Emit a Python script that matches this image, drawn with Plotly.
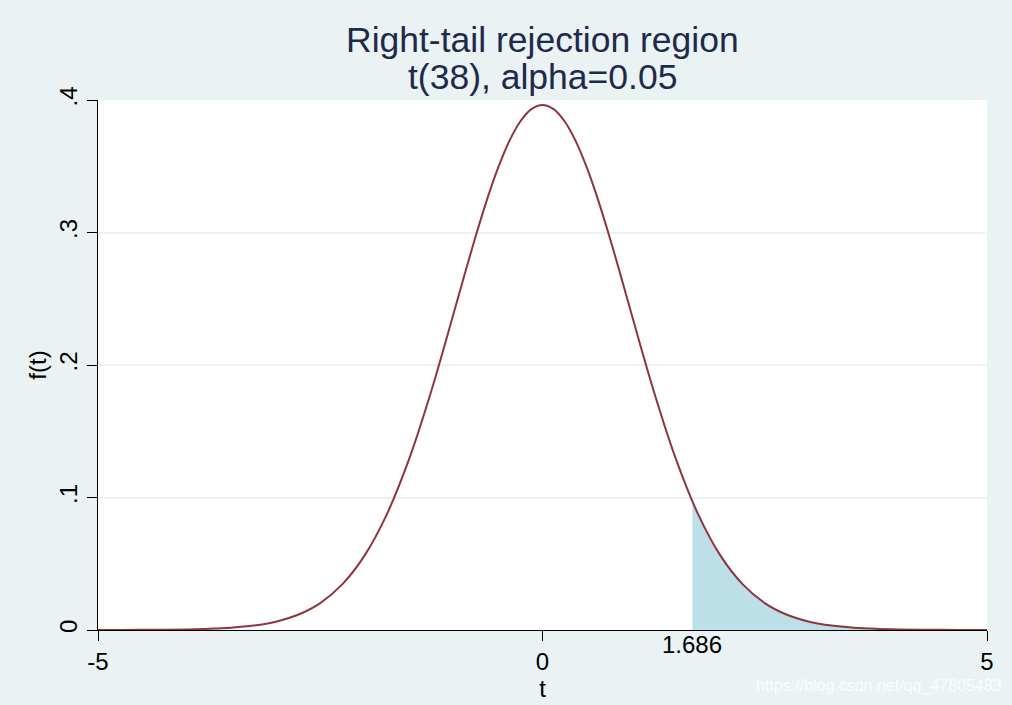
import plotly.graph_objects as go

# t(38) density, values
t_vals = [-5.0, -4.75, -4.5, -4.25, -4.0, -3.75, -3.5, -3.25, -3.0, -2.75, -2.5, -2.25,
          -2.0, -1.75, -1.5, -1.25, -1.0, -0.875, -0.75, -0.625, -0.5, -0.375, -0.25,
          -0.125, 0.0, 0.125, 0.25, 0.375, 0.5, 0.625, 0.75, 0.875,
          1.0, 1.25, 1.5, 1.75, 2.0, 2.25, 2.5, 2.75, 3.0, 3.25, 3.5, 3.75, 4.0,
          4.25, 4.5, 4.75, 5.0]
f_vals = [0.00002, 0.00004, 0.00010, 0.00020, 0.00042, 0.00085, 0.00170, 0.00332,
          0.00628, 0.01150, 0.02034, 0.03463, 0.05630, 0.08742, 0.12910, 0.18060,
          0.23880, 0.26860, 0.29760, 0.32465, 0.34870, 0.36876, 0.38380,
          0.39314, 0.39630, 0.39314, 0.38380, 0.36876, 0.34870, 0.32465, 0.29760, 0.26860,
          0.23880, 0.18060, 0.12910, 0.08742, 0.05630, 0.03463, 0.02034, 0.01150,
          0.00628, 0.00332, 0.00170, 0.00085, 0.00042, 0.00020, 0.00010, 0.00004,
          0.00002]

# rejection region (right tail beyond critical value)
crit = 1.686
tail_t = [1.686, 1.75, 2.0, 2.25, 2.5, 2.75, 3.0, 3.25, 3.5, 3.75, 4.0, 4.25, 4.5, 4.75, 5.0]
tail_f = [0.09707, 0.08742, 0.05630, 0.03463, 0.02034, 0.01150, 0.00628, 0.00332,
          0.00170, 0.00085, 0.00042, 0.00020, 0.00010, 0.00004, 0.00002]

x_ticks = [-5, 0, 5]
y_ticks = [0, 0.1, 0.2, 0.3, 0.4]
y_tick_labels = ["0", ".1", ".2", ".3", ".4"]

title_lines = ["Right-tail rejection region", "t(38), alpha=0.05"]

BG = "#eaf2f3"
FONT = "Liberation Sans, Arial, sans-serif"
PLOT_H = 530
PLOT_W = 889

fig = go.Figure()
fig.add_trace(go.Scatter(
    x=tail_t, y=tail_f, mode="lines", fill="tozeroy",
    fillcolor="#bddfe8", line=dict(color="#a9d3e0", width=1, shape="spline"),
    hoverinfo="skip", showlegend=False))
fig.add_trace(go.Scatter(
    x=t_vals, y=f_vals, mode="lines",
    line=dict(color="#8f353c", width=2, shape="spline"),
    showlegend=False))

annotations = [
    dict(x=crit, y=0, xref="x", yref="paper", text="1.686", showarrow=False,
         yanchor="middle", yshift=-14, font=dict(family=FONT, size=24, color="black")),
    dict(x=(1004 - 98) / PLOT_W, y=-(686 - 630) / PLOT_H, xref="paper", yref="paper",
         xanchor="right", yanchor="middle", showarrow=False,
         text="https://blog.csdn.net/qq_47805483",
         font=dict(family=FONT, size=16, color="rgba(255,255,255,0.85)")),
]
for line, cy in zip(title_lines, [40, 77]):
    annotations.append(dict(
        x=0.5, y=1 + (100 - cy) / PLOT_H, xref="paper", yref="paper",
        xanchor="center", yanchor="middle", showarrow=False, text=line,
        font=dict(family=FONT, size=35.5, color="#1e2a4a")))

fig.update_layout(
    width=1012, height=705,
    margin=dict(l=98, r=25, t=100, b=75),
    paper_bgcolor=BG, plot_bgcolor="white",
    font=dict(family=FONT, color="black", size=24),
    xaxis=dict(range=[-5, 5], tickvals=x_ticks, ticktext=[str(v) for v in x_ticks],
               showgrid=False, zeroline=False, showline=True, linecolor="black",
               linewidth=1, ticks="outside", ticklen=10, tickcolor="black",
               title=dict(text="t", standoff=0, font=dict(size=24))),
    yaxis=dict(range=[0, 0.4], tickvals=y_ticks, ticktext=y_tick_labels,
               tickangle=-90, showgrid=True, gridcolor=BG, gridwidth=2,
               zeroline=False, showline=True, linecolor="black", linewidth=1,
               ticks="outside", ticklen=10, tickcolor="black",
               title=dict(text="f(t)", standoff=2, font=dict(size=24))),
    annotations=annotations,
)

fig.write_html("out.html", config={"displayModeBar": False},
               post_script="document.body.style.margin='0';document.body.style.background='" + BG + "';")
